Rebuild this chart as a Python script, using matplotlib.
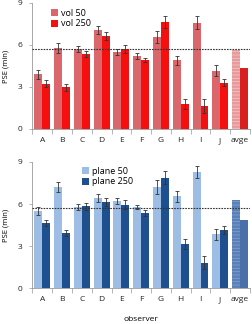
import matplotlib
matplotlib.use("Agg")
import matplotlib.pyplot as plt
import numpy as np

observers = ["A", "B", "C", "D", "E", "F", "G", "H", "I", "J", "avge"]

vol50 = [3.9, 5.78, 5.7, 7.08, 5.48, 5.22, 6.56, 4.9, 7.6, 4.17, 5.65]
vol50_err = [0.3, 0.35, 0.2, 0.3, 0.2, 0.2, 0.45, 0.34, 0.43, 0.38]
vol250 = [3.24, 2.97, 5.35, 6.65, 5.7, 4.92, 7.64, 1.8, 1.64, 3.3, 4.32]
vol250_err = [0.24, 0.24, 0.24, 0.3, 0.3, 0.17, 0.45, 0.36, 0.47, 0.24]

plane50 = [5.5, 7.22, 5.79, 6.45, 6.19, 5.79, 7.22, 6.55, 8.3, 3.83, 6.3]
plane50_err = [0.28, 0.38, 0.24, 0.29, 0.21, 0.17, 0.48, 0.38, 0.45, 0.4]
plane250 = [4.64, 3.93, 5.84, 6.14, 5.95, 5.36, 7.88, 3.12, 1.81, 4.12, 4.88]
plane250_err = [0.24, 0.24, 0.26, 0.31, 0.31, 0.19, 0.45, 0.36, 0.45, 0.29]

ref_line = 5.68

plt.rcParams['font.family'] = ['Open Sans', 'DejaVu Sans']
plt.rcParams['hatch.linewidth'] = 0.6

fig = plt.figure(figsize=(2.53, 3.24), dpi=100)
ax1 = fig.add_axes([0.128, 0.602, 0.86, 0.389])
ax2 = fig.add_axes([0.128, 0.111, 0.86, 0.389])

x = np.arange(len(observers))
w = 0.4


def draw(ax, a, aerr, b, berr, ca, cb, ca_avg, cb_avg, hatch_col, la, lb, legx):
    n = len(aerr)
    ax.bar(x[:n] - w / 2, a[:n], w, color=ca, label=la, zorder=2)
    ax.bar(x[:n] + w / 2, b[:n], w, color=cb, label=lb, zorder=2)
    ax.bar(x[n] - w / 2, a[n], w, color=ca_avg, edgecolor=hatch_col,
           hatch='-----', linewidth=0, zorder=2)
    ax.bar(x[n] + w / 2, b[n], w, color=cb_avg, zorder=2)
    ax.errorbar(x[:n] - w / 2, a[:n], yerr=aerr, fmt='none', ecolor='#333333',
                elinewidth=0.6, capsize=1.6, capthick=0.6, zorder=3)
    ax.errorbar(x[:n] + w / 2, b[:n], yerr=berr, fmt='none', ecolor='#333333',
                elinewidth=0.6, capsize=1.6, capthick=0.6, zorder=3)
    ax.axhline(ref_line, color='#333333', linestyle=(0, (1.5, 1)), linewidth=0.8, zorder=4)
    ax.set_xlim(-0.47, 10.45)
    ax.set_ylim(0, 9)
    ax.set_yticks([0, 3, 6, 9])
    ax.set_xticks(x)
    ax.set_xticklabels(observers)
    ax.set_xticks(np.arange(-0.5, 10.6, 1), minor=True)
    ax.tick_params(axis='x', which='major', length=0, labelsize=6, pad=6, colors='#222222')
    ax.tick_params(axis='x', which='minor', length=3.5, width=0.5, color='#999999')
    ax.tick_params(axis='y', length=2, width=0.5, labelsize=6, pad=5, colors='#222222')
    ax.tick_params(axis='y', color='#999999')
    for s in ['top', 'right']:
        ax.spines[s].set_visible(False)
    for s in ['left', 'bottom']:
        ax.spines[s].set_color('#999999')
        ax.spines[s].set_linewidth(0.6)
    ax.set_ylabel('PSE (min)', fontsize=5.5, labelpad=6)
    ax.legend(loc='upper left', bbox_to_anchor=legx, frameon=False, fontsize=6.5,
              handlelength=0.8, handleheight=0.8, handletextpad=0.3, labelspacing=0.15,
              borderaxespad=0)


draw(ax1, vol50, vol50_err, vol250, vol250_err, '#d9676b', '#f50f0f', '#e79a9b', '#d82020',
     '#f2c4c4', 'vol 50', 'vol 250', (0.07, 0.98))
draw(ax2, plane50, plane50_err, plane250, plane250_err, '#9ebde5', '#1e4f8f', '#5b80b9', '#4a70aa',
     '#7e9fcc', 'plane 50', 'plane 250', (0.21, 0.99))
ax2.set_xlabel('observer', fontsize=6, labelpad=9)

fig.savefig('out.png', dpi=100)
